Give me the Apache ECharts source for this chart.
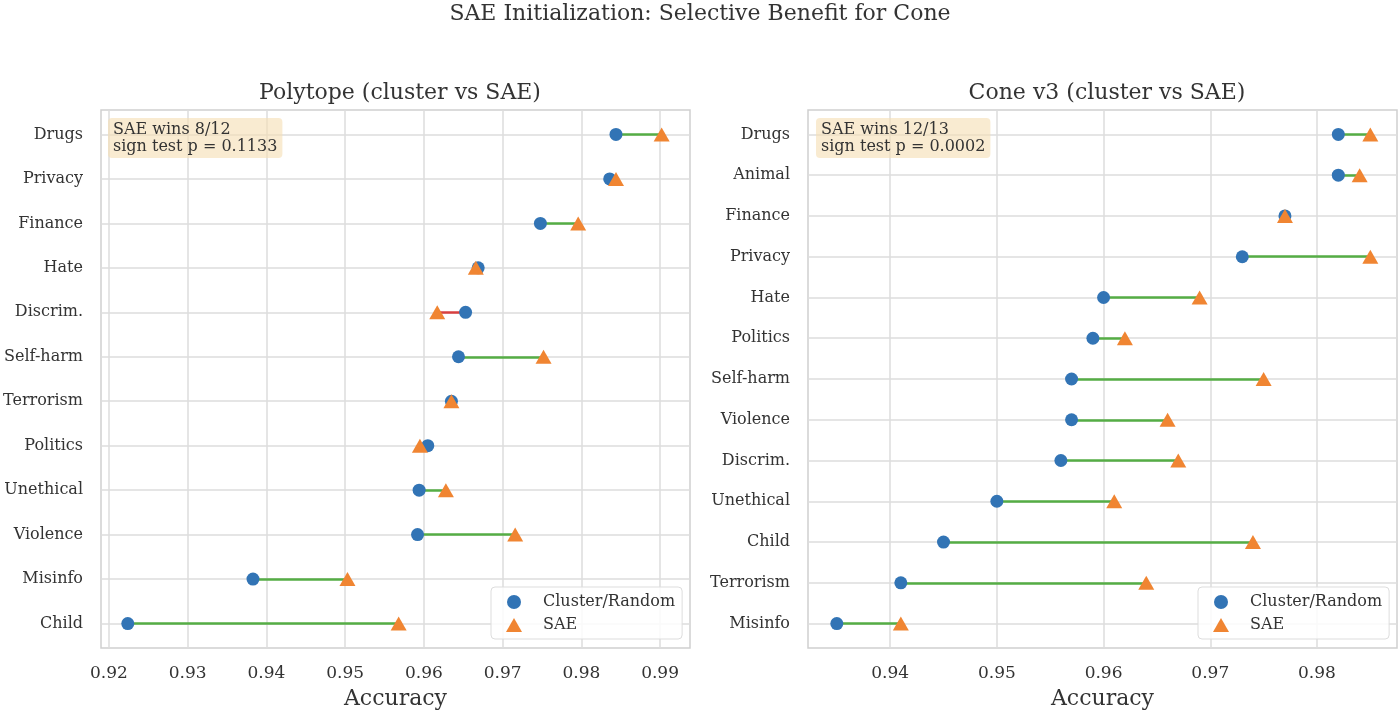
<!DOCTYPE html>
<html lang="en">
<head>
    <meta charset="UTF-8">
    <title>SAE Initialization</title>
    <script src="https://cdn.jsdelivr.net/npm/echarts@6.0.0/dist/echarts.min.js"></script>
</head>
<body style="margin: 0; background: #fff">
<div id="container" style="width: 1400px; height: 715px"></div>
<script>
    // Polytope (cluster vs SAE), top to bottom
    var polyCats = ['Drugs', 'Privacy', 'Finance', 'Hate', 'Discrim.', 'Self-harm',
        'Terrorism', 'Politics', 'Unethical', 'Violence', 'Misinfo', 'Child'];
    var polyCluster = [0.9844, 0.9836, 0.9748, 0.9669, 0.9653, 0.9644,
        0.9635, 0.9605, 0.9594, 0.9592, 0.9383, 0.9224];
    var polySae = [0.9902, 0.9844, 0.9796, 0.9666, 0.9617, 0.9752,
        0.9635, 0.9595, 0.9628, 0.9716, 0.9503, 0.9568];
    var polyTicks = [0.92, 0.93, 0.94, 0.95, 0.96, 0.97, 0.98, 0.99];
    var polyP = '0.1133';

    // Cone v3 (cluster vs SAE), top to bottom
    var coneCats = ['Drugs', 'Animal', 'Finance', 'Privacy', 'Hate', 'Politics', 'Self-harm',
        'Violence', 'Discrim.', 'Unethical', 'Child', 'Terrorism', 'Misinfo'];
    var coneCluster = [0.982, 0.982, 0.977, 0.973, 0.960, 0.959, 0.957,
        0.957, 0.956, 0.950, 0.945, 0.941, 0.935];
    var coneSae = [0.985, 0.984, 0.977, 0.985, 0.969, 0.962, 0.975,
        0.966, 0.967, 0.961, 0.974, 0.964, 0.941];
    var coneTicks = [0.94, 0.95, 0.96, 0.97, 0.98];
    var coneP = '0.0002';

    var font = 'DejaVu Serif';
    var textColor = '#333';
    var gridColor = '#dcdcdc';
    var blue = '#3274b5';
    var orange = '#f08532';
    var green = '#55ad45';
    var red = '#d84040';

    var dom = document.getElementById('container');
    var myChart = echarts.init(dom);

    function countWins(cluster, sae) {
        var n = 0;
        for (var i = 0; i < cluster.length; i++) {
            if (sae[i] > cluster[i]) n++;
        }
        return n;
    }

    function xAxisFor(idx, min, max, ticks) {
        return {
            gridIndex: idx,
            type: 'value',
            min: min,
            max: max,
            axisLine: {show: false},
            axisTick: {show: false, customValues: ticks},
            axisLabel: {
                customValues: ticks,
                formatter: function (v) { return v.toFixed(2); },
                margin: 17,
                fontSize: 17,
                color: textColor,
                fontFamily: font
            },
            splitLine: {show: true, lineStyle: {color: gridColor, width: 1.5}},
            name: 'Accuracy',
            nameLocation: 'middle',
            nameGap: 40,
            nameTextStyle: {fontSize: 22, color: textColor, fontFamily: font}
        };
    }

    function yAxisFor(idx, cats) {
        var pos = cats.map(function (c, i) { return i; });
        // same 5% padding as the picture
        var pad = (cats.length - 1) * 0.05;
        return {
            gridIndex: idx,
            type: 'value',
            inverse: true,
            min: -pad,
            max: cats.length - 1 + pad,
            axisLine: {show: false},
            axisTick: {show: false, customValues: pos},
            axisLabel: {
                customValues: pos,
                formatter: function (v) { return cats[Math.round(v)]; },
                margin: 18,
                fontSize: 16,
                color: textColor,
                fontFamily: font
            },
            splitLine: {show: true, lineStyle: {color: gridColor, width: 1.5}}
        };
    }

    function seriesFor(idx, cluster, sae) {
        var lineData = cluster.map(function (c, i) {
            return {
                coords: [[c, i], [sae[i], i]],
                lineStyle: {color: sae[i] >= c ? green : red}
            };
        });
        return [
            {
                type: 'lines',
                coordinateSystem: 'cartesian2d',
                xAxisIndex: idx,
                yAxisIndex: idx,
                silent: true,
                z: 2,
                lineStyle: {width: 2.5, opacity: 1},
                data: lineData
            },
            {
                name: 'Cluster/Random',
                type: 'scatter',
                xAxisIndex: idx,
                yAxisIndex: idx,
                symbol: 'circle',
                symbolSize: 13,
                itemStyle: {color: blue, opacity: 1},
                z: 3,
                data: cluster.map(function (v, i) { return [v, i]; })
            },
            {
                name: 'SAE',
                type: 'scatter',
                xAxisIndex: idx,
                yAxisIndex: idx,
                symbol: 'triangle',
                symbolSize: [16, 14],
                itemStyle: {color: orange, opacity: 1},
                z: 4,
                data: sae.map(function (v, i) { return [v, i]; })
            }
        ];
    }

    function legendFor(left) {
        return {
            orient: 'vertical',
            left: left,
            top: 587,
            itemWidth: 16,
            itemHeight: 14,
            itemGap: 5,
            padding: [6, 7, 5, 15],
            backgroundColor: 'rgba(255,255,255,0.85)',
            borderColor: '#dddddd',
            borderWidth: 1,
            borderRadius: 4,
            data: [{name: 'Cluster/Random', icon: 'circle'}, {name: 'SAE', icon: 'triangle'}],
            textStyle: {fontSize: 16, lineHeight: 18, color: textColor, fontFamily: font, padding: [0, 0, 0, 16]}
        };
    }

    function noteFor(left, cluster, sae, p) {
        return {
            text: 'SAE wins ' + countWins(cluster, sae) + '/' + cluster.length + '\nsign test p = ' + p,
            left: left,
            top: 118,
            padding: [3, 5, 3, 5],
            backgroundColor: 'rgba(245,222,179,0.6)',
            borderRadius: 4,
            textStyle: {fontSize: 16, lineHeight: 17, fontWeight: 'normal', color: textColor, fontFamily: font}
        };
    }

    var titleStyle = {fontSize: 22, fontWeight: 'normal', color: textColor, fontFamily: font};

    var option = {
        animation: false,
        backgroundColor: '#fff',
        title: [
            {text: 'SAE Initialization: Selective Benefit for Cone', left: 'center', top: -2, textStyle: titleStyle},
            {text: 'Polytope (cluster vs SAE)', left: 395, textAlign: 'center', top: 77, textStyle: titleStyle},
            {text: 'Cone v3 (cluster vs SAE)', left: 1102, textAlign: 'center', top: 77, textStyle: titleStyle},
            noteFor(108, polyCluster, polySae, polyP),
            noteFor(816, coneCluster, coneSae, coneP)
        ],
        legend: [legendFor(491), legendFor(1198)],
        grid: [
            {left: 101, top: 110, width: 589, height: 538, show: true, borderColor: '#d0d0d0', borderWidth: 1.5},
            {left: 808, top: 110, width: 589, height: 538, show: true, borderColor: '#d0d0d0', borderWidth: 1.5}
        ],
        xAxis: [
            xAxisFor(0, 0.919, 0.9938, polyTicks),
            xAxisFor(1, 0.9323, 0.9875, coneTicks)
        ],
        yAxis: [
            yAxisFor(0, polyCats),
            yAxisFor(1, coneCats)
        ],
        series: seriesFor(0, polyCluster, polySae).concat(seriesFor(1, coneCluster, coneSae))
    };

    myChart.setOption(option);
</script>
</body>
</html>
